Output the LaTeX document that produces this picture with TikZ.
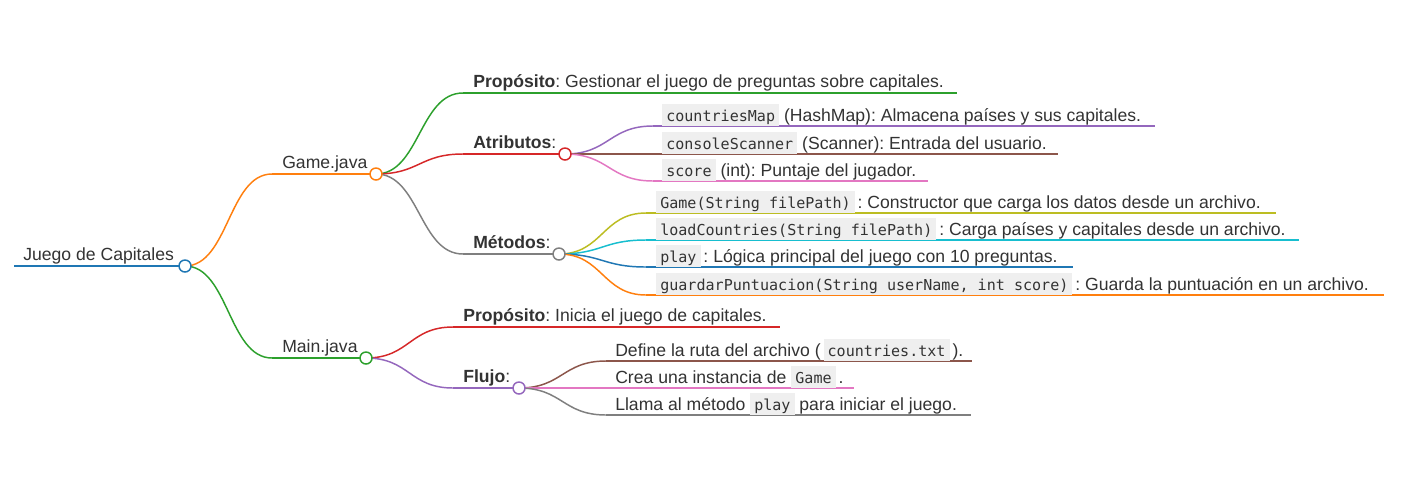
\documentclass[tikz,border=0pt]{standalone}
\usepackage{fontspec}
\setmainfont{Liberation Sans}
\setmonofont{DejaVu Sans Mono}
\usetikzlibrary{calc}
\definecolor{mblue}{HTML}{1F77B4}
\definecolor{morange}{HTML}{FF7F0E}
\definecolor{mgreen}{HTML}{2CA02C}
\definecolor{mred}{HTML}{D62728}
\definecolor{mpurple}{HTML}{9467BD}
\definecolor{mbrown}{HTML}{8C564B}
\definecolor{mpink}{HTML}{E377C2}
\definecolor{mgray}{HTML}{7F7F7F}
\definecolor{molive}{HTML}{BCBD22}
\definecolor{mcyan}{HTML}{17BECF}
\definecolor{txt}{HTML}{333333}
\definecolor{codebg}{HTML}{EFEFEF}
\frenchspacing
\newcommand{\cod}[1]{{\setlength{\fboxsep}{0pt}\colorbox{codebg}{\rule[-3.4pt]{0pt}{16.5pt}\hspace{3pt}{\ttfamily\fontsize{11.3}{13}\selectfont #1}\hspace{3pt}}}}
\newcommand{\mmlink}[3]{\draw[edge,#1] let \p1=(#2), \p2=(#3) in (\p1) .. controls ({0.5*\x1+0.5*\x2},\y1) and ({0.5*\x1+0.5*\x2},\y2) .. (\p2);}
\tikzset{
  lbl/.style={anchor=base west, inner sep=0pt, text=txt, font=\fontsize{13.2}{15}\selectfont},
  edge/.style={line width=1.1pt},
  dot/.style={circle, draw, fill=white, line width=1.1pt, minimum size=9pt, inner sep=0pt},
}
\begin{document}
\begin{tikzpicture}[x=0.75pt,y=-0.75pt]
\useasboundingbox[fill=white] (0,0) rectangle (1408,490);
% coordinates
\coordinate (r0) at (14,266);
\coordinate (c-root) at (185,266);
\coordinate (gs) at (272,174);
\coordinate (c-game) at (376,174);
\coordinate (ms) at (272,358);
\coordinate (c-main) at (366,358);
\coordinate (gps) at (463,93);
\coordinate (gpe) at (957,93);
\coordinate (as) at (463,154);
\coordinate (c-attr) at (565,154);
\coordinate (mts) at (463,254);
\coordinate (c-meth) at (559,254);
\coordinate (a1s) at (653,126); \coordinate (a1e) at (1155,126);
\coordinate (a2s) at (653,154); \coordinate (a2e) at (1058,154);
\coordinate (a3s) at (653,181); \coordinate (a3e) at (928,181);
\coordinate (m1s) at (646,213); \coordinate (m1e) at (1276,213);
\coordinate (m2s) at (646,240); \coordinate (m2e) at (1299,240);
\coordinate (m3s) at (646,267); \coordinate (m3e) at (1073,267);
\coordinate (m4s) at (646,295); \coordinate (m4e) at (1384,295);
\coordinate (mps) at (453,327); \coordinate (mpe) at (780,327);
\coordinate (fs) at (453,388);
\coordinate (c-flujo) at (519,388);
\coordinate (f1s) at (606,361); \coordinate (f1e) at (972,361);
\coordinate (f2s) at (606,388); \coordinate (f2e) at (854,388);
\coordinate (f3s) at (606,415); \coordinate (f3e) at (971,415);
% root
\draw[edge,mblue] (r0) -- (c-root);
% level 1
\mmlink{morange}{c-root}{gs}
\draw[edge,morange] (gs) -- (c-game);
\mmlink{mgreen}{c-root}{ms}
\draw[edge,mgreen] (ms) -- (c-main);
% Game children
\mmlink{mgreen}{c-game}{gps}
\draw[edge,mgreen] (gps) -- (gpe);
\mmlink{mred}{c-game}{as}
\draw[edge,mred] (as) -- (c-attr);
\mmlink{mgray}{c-game}{mts}
\draw[edge,mgray] (mts) -- (c-meth);
% Atributos children
\mmlink{mpurple}{c-attr}{a1s}
\draw[edge,mpurple] (a1s) -- (a1e);
\mmlink{mbrown}{c-attr}{a2s}
\draw[edge,mbrown] (a2s) -- (a2e);
\mmlink{mpink}{c-attr}{a3s}
\draw[edge,mpink] (a3s) -- (a3e);
% Metodos children
\mmlink{molive}{c-meth}{m1s}
\draw[edge,molive] (m1s) -- (m1e);
\mmlink{mcyan}{c-meth}{m2s}
\draw[edge,mcyan] (m2s) -- (m2e);
\mmlink{mblue}{c-meth}{m3s}
\draw[edge,mblue] (m3s) -- (m3e);
\mmlink{morange}{c-meth}{m4s}
\draw[edge,morange] (m4s) -- (m4e);
% Main children
\mmlink{mred}{c-main}{mps}
\draw[edge,mred] (mps) -- (mpe);
\mmlink{mpurple}{c-main}{fs}
\draw[edge,mpurple] (fs) -- (c-flujo);
% Flujo children
\mmlink{mbrown}{c-flujo}{f1s}
\draw[edge,mbrown] (f1s) -- (f1e);
\mmlink{mpink}{c-flujo}{f2s}
\draw[edge,mpink] (f2s) -- (f2e);
\mmlink{mgray}{c-flujo}{f3s}
\draw[edge,mgray] (f3s) -- (f3e);
% circles
\node[dot,draw=mblue] (d-root) at (c-root) {};
\node[dot,draw=morange] (d-game) at (c-game) {};
\node[dot,draw=mgreen] (d-main) at (c-main) {};
\node[dot,draw=mred] (d-attr) at (c-attr) {};
\node[dot,draw=mgray] (d-meth) at (c-meth) {};
\node[dot,draw=mpurple] (d-flujo) at (c-flujo) {};
% labels
\node[lbl] (t-root) at (23,260.5) {Juego de Capitales};
\node[lbl] (t-game) at (282,168.5) {Game.java};
\node[lbl] (t-main) at (282,352.5) {Main.java};
\node[lbl] (t-gprop) at (473,87.5) {\textbf{Propósito}: Gestionar el juego de preguntas sobre capitales.};
\node[lbl] (t-attr) at (473,148.5) {\textbf{Atributos}:};
\node[lbl] (t-meth) at (473,248.5) {\textbf{Métodos}:};
\node[lbl] (t-a1) at (662,121) {\cod{countriesMap} (HashMap): Almacena países y sus capitales.};
\node[lbl] (t-a2) at (662,149) {\cod{consoleScanner} (Scanner): Entrada del usuario.};
\node[lbl] (t-a3) at (662,176) {\cod{score} (int): Puntaje del jugador.};
\node[lbl] (t-m1) at (656,208) {\cod{Game(String filePath)}\,: Constructor que carga los datos desde un archivo.};
\node[lbl] (t-m2) at (656,235) {\cod{loadCountries(String filePath)}\,: Carga países y capitales desde un archivo.};
\node[lbl] (t-m3) at (656,262) {\cod{play}\,: Lógica principal del juego con 10 preguntas.};
\node[lbl] (t-m4) at (656,290) {\cod{guardarPuntuacion(String userName, int score)}\,: Guarda la puntuación en un archivo.};
\node[lbl] (t-mprop) at (463,321.5) {\textbf{Propósito}: Inicia el juego de capitales.};
\node[lbl] (t-flujo) at (463,382.5) {\textbf{Flujo}:};
\node[lbl] (t-f1) at (615,356) {Define la ruta del archivo (\,\cod{countries.txt}\,).};
\node[lbl] (t-f2) at (615,383) {Crea una instancia de \cod{Game}\,.};
\node[lbl] (t-f3) at (615,410) {Llama al método \cod{play} para iniciar el juego.};
\end{tikzpicture}
\end{document}
